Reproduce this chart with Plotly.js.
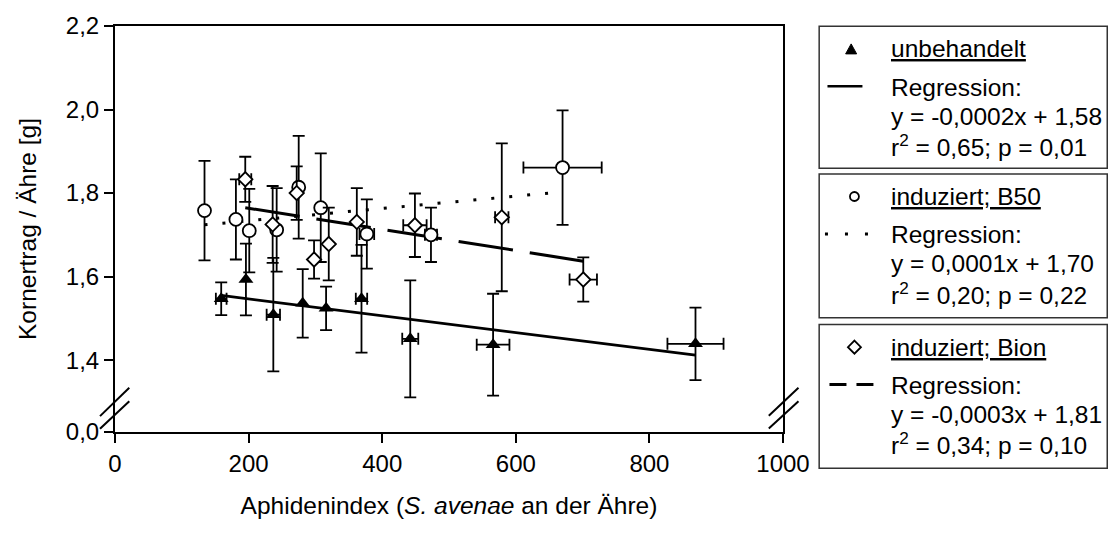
<!DOCTYPE html>
<html>
<head>
<meta charset="utf-8">
<script src="https://cdn.plot.ly/plotly-3.0.1.min.js"></script>
<style>html,body{margin:0;padding:0;background:#fff;}#chart{width:1110px;height:544px;}</style>
</head>
<body>
<div id="chart"></div>
<script>
// ---- data ----
// unbehandelt (filled triangles)
const unbX    = [159, 196, 237, 281, 316, 369, 442, 566, 869];
const unbY    = [1.547, 1.593, 1.509, 1.536, 1.524, 1.547, 1.451, 1.437, 1.439];
const unbErrY = [0.039, 0.086, 0.136, 0.082, 0.052, 0.129, 0.140, 0.122, 0.087];
const unbErrX = [8, null, 10, null, null, 8.5, 12, 24.5, 42];
// induziert; B50 (open circles)
const b50X    = [134, 181, 201, 242, 275, 308, 377, 473, 670];
const b50Y    = [1.758, 1.737, 1.710, 1.712, 1.814, 1.765, 1.702, 1.700, 1.861];
const b50ErrY = [0.119, 0.096, 0.100, 0.100, 0.123, 0.130, 0.083, 0.065, 0.137];
const b50ErrX = [null, null, null, null, null, null, 11, 9, 58.6];
// induziert; Bion (open diamonds)
const bionX    = [195, 236, 272, 298, 320, 362, 449, 579, 701];
const bionY    = [1.833, 1.725, 1.800, 1.641, 1.678, 1.731, 1.723, 1.742, 1.593];
const bionErrY = [0.054, 0.092, 0.064, 0.046, 0.087, 0.081, 0.076, 0.177, 0.053];
const bionErrX = [9, null, null, null, null, null, 17.5, 10, 20.5];
// regression lines (end points)
const regUnbX  = [159, 869];   const regUnbY  = [1.555, 1.412];
const regB50X  = [134, 670];   const regB50Y  = [1.724, 1.803];
const regBionX = [195, 701];   const regBionY = [1.765, 1.637];
// axes
const xTicks = [0, 200, 400, 600, 800, 1000];
const yBreakBottom = 1.228;
const yTickVals = [yBreakBottom, 1.4, 1.6, 1.8, 2.0, 2.2];
const yTickText = ['0,0', '1,4', '1,6', '1,8', '2,0', '2,2'];
// legend texts
const legendBlocks = [
  ['<u>unbehandelt</u>', 'Regression:', 'y = -0,0002x + 1,58', 'r<sup>2</sup> = 0,65; p = 0,01'],
  ['<u>induziert; B50</u>', 'Regression:', 'y = 0,0001x + 1,70', 'r<sup>2</sup> = 0,20; p = 0,22'],
  ['<u>induziert; Bion</u>', 'Regression:', 'y = -0,0003x + 1,81', 'r<sup>2</sup> = 0,34; p = 0,10']
];

// ---- layout geometry (pixels) ----
const W = 1110, H = 544;
const L = 115, R = 783.5, T = 26, B = 432.2;
const px = x => (x - L) / (R - L);
const py = y => (B - y) / (B - T);
const FONT = 'Liberation Sans, Arial, sans-serif';
const nz = a => a.map(v => v === null ? NaN : v);

function errs(ey, ex) {
  return {
    error_y: {type: 'data', array: ey, visible: true, color: '#000', thickness: 1.8, width: 6},
    error_x: {type: 'data', array: nz(ex), visible: true, color: '#000', thickness: 1.8, width: 6}
  };
}

const traces = [
  {x: regUnbX, y: regUnbY, mode: 'lines', line: {color: '#000', width: 2.7}, hoverinfo: 'skip'},
  {x: regB50X, y: regB50Y, mode: 'lines', line: {color: '#000', width: 3, dash: '3px,15px'}, hoverinfo: 'skip'},
  {x: regBionX, y: regBionY, mode: 'lines', line: {color: '#000', width: 3, dash: '55px,17px'}, hoverinfo: 'skip'},
  Object.assign({x: unbX, y: unbY, mode: 'markers',
    marker: {symbol: 'triangle-up', size: 13, color: '#000'}}, errs(unbErrY, unbErrX)),
  Object.assign({x: b50X, y: b50Y, mode: 'markers',
    marker: {symbol: 'circle', size: 13, color: '#fff', line: {color: '#000', width: 1.8}}}, errs(b50ErrY, b50ErrX)),
  Object.assign({x: bionX, y: bionY, mode: 'markers',
    marker: {symbol: 'diamond', size: 11, color: '#fff', line: {color: '#000', width: 1.8}}}, errs(bionErrY, bionErrX))
];

const shapes = [];
const annotations = [];
function seg(x0, y0, x1, y1, w, dash) {
  shapes.push({type: 'line', xref: 'paper', yref: 'paper', x0: px(x0), y0: py(y0), x1: px(x1), y1: py(y1),
    line: {color: '#000', width: w, dash: dash || 'solid'}});
}
// axis breaks
seg(100, 416.3, 129.3, 388, 2); seg(100, 429, 129.3, 401.4, 2);
seg(769.3, 415.9, 799, 388, 2); seg(769.3, 428.8, 799, 401.4, 2);

// legend boxes
const boxTops = [26.3, 174, 324.7];
const boxBottoms = [168.4, 318, 468.5];
const boxL = 819.7, boxR = 1108;
boxTops.forEach((t, i) => {
  shapes.push({type: 'rect', xref: 'paper', yref: 'paper', x0: px(boxL), x1: px(boxR), y0: py(boxBottoms[i]), y1: py(t),
    line: {color: '#333', width: 1.5}, fillcolor: 'rgba(0,0,0,0)'});
});
const rowOff = [22.6, 61, 90, 119.3];
const textX = 890;
legendBlocks.forEach((rows, i) => {
  rows.forEach((txt, j) => {
    annotations.push({xref: 'paper', yref: 'paper', x: px(textX), y: py(boxTops[i] + rowOff[j]),
      xanchor: 'left', yanchor: 'middle', showarrow: false, text: txt,
      font: {family: FONT, size: 24.5, color: '#000'}});
  });
});
function pathOf(pts) {
  return 'M' + pts.map(p => px(p[0]) + ',' + py(p[1])).join(' L') + ' Z';
}
// legend symbols
const sy1 = boxTops[0] + rowOff[0], sy2 = boxTops[1] + rowOff[0], sy3 = boxTops[2] + rowOff[0];
shapes.push({type: 'path', xref: 'paper', yref: 'paper', path: pathOf([[846.2, sy1 + 5], [857.2, sy1 + 5], [851.7, sy1 - 5]]),
  fillcolor: '#000', line: {color: '#000', width: 1}});
shapes.push({type: 'circle', xref: 'paper', yref: 'paper', x0: px(850.5), x1: px(859.5), y0: py(sy2 + 4.5), y1: py(sy2 - 4.5),
  fillcolor: '#fff', line: {color: '#000', width: 1.8}});
shapes.push({type: 'path', xref: 'paper', yref: 'paper', path: pathOf([[855, sy3 - 6.5], [861.5, sy3], [855, sy3 + 6.5], [848.5, sy3]]),
  fillcolor: '#fff', line: {color: '#000', width: 1.8}});
// legend line samples
const ly1 = boxTops[0] + rowOff[1] - 1, ly2 = boxTops[1] + rowOff[1] - 1, ly3 = boxTops[2] + rowOff[1] - 1;
seg(828, ly1, 863, ly1, 2.7);
seg(825.5, ly2, 870, ly2, 3, '3px,17px');
seg(830, ly3, 874, ly3, 3, '17px,10px');

const layout = {
  width: W, height: H,
  margin: {l: L, r: W - R, t: T, b: H - B, pad: 0},
  paper_bgcolor: '#fff', plot_bgcolor: '#fff',
  showlegend: false,
  font: {family: FONT, size: 24, color: '#000'},
  xaxis: {
    range: [0, 1000], tickvals: xTicks, ticktext: xTicks.map(String),
    ticks: 'outside', ticklen: 9, tickwidth: 2, tickcolor: '#000',
    showline: true, linewidth: 2, linecolor: '#000', mirror: true,
    showgrid: false, zeroline: false,
    tickfont: {family: FONT, size: 24, color: '#000'},
    title: {text: 'Aphidenindex (<i>S. avenae</i> an der Ähre)', font: {family: FONT, size: 24.5, color: '#000'}, standoff: 21}
  },
  yaxis: {
    range: [yBreakBottom, 2.2], tickvals: yTickVals, ticktext: yTickText,
    ticks: 'outside', ticklen: 9, tickwidth: 2, tickcolor: '#000',
    showline: true, linewidth: 2, linecolor: '#000', mirror: true,
    showgrid: false, zeroline: false,
    tickfont: {family: FONT, size: 24, color: '#000'},
    title: {text: 'Kornertrag / Ähre [g]', font: {family: FONT, size: 24.5, color: '#000'}, standoff: 22}
  },
  shapes: shapes,
  annotations: annotations
};

Plotly.newPlot('chart', traces, layout, {staticPlot: true, displayModeBar: false});
</script>
</body>
</html>
